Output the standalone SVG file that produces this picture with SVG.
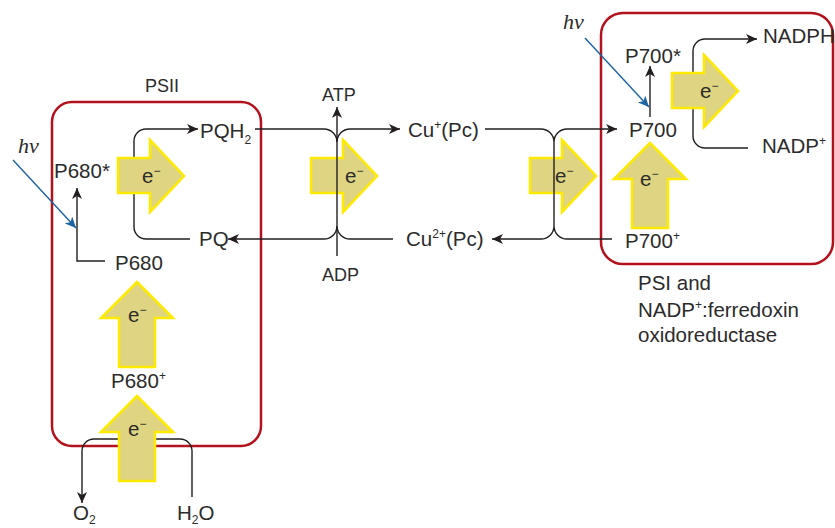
<svg xmlns="http://www.w3.org/2000/svg" width="835" height="528" viewBox="0 0 835 528">
<defs>
<style>
text{font-family:"Liberation Sans",Arial,sans-serif;font-size:20.5px;fill:#2b2b2b}
.hv{font-family:"Liberation Serif","Times New Roman",serif;font-style:italic;font-size:22px}
.sm{font-size:18px}
.box{fill:none;stroke:#b3121d;stroke-width:2.5}
.ln{fill:none;stroke:#231f20;stroke-width:1.4}
.blue{fill:none;stroke:#1b63a3;stroke-width:1.4}
.ea{fill:#dfd482;stroke:#ffea00;stroke-width:2.5;stroke-linejoin:miter}
</style>
<marker id="ah" markerUnits="userSpaceOnUse" markerWidth="12" markerHeight="10" refX="11" refY="5" orient="auto"><path d="M0,0 L11,5 L0,10 L3,5 Z" fill="#231f20"/></marker>
<marker id="ahb" markerUnits="userSpaceOnUse" markerWidth="12" markerHeight="10" refX="11" refY="5" orient="auto"><path d="M0,0 L11,5 L0,10 L3,5 Z" fill="#1b63a3"/></marker>
<path id="right" d="M0,0 H32 V-18 L66,18 L32,54 V35 H0 Z"/>
<path id="up" d="M0,0 L36,36 H18 V85 H-18 V36 H-36 Z"/>
</defs>
<rect width="835" height="528" fill="#fff"/>

<g id="psii-box"><rect class="box" x="52" y="102" width="209" height="344" rx="20"/><text class="sm" x="145" y="92">PSII</text></g>
<g id="psi-box"><rect class="box" x="601" y="13" width="232" height="251" rx="22"/>
<text x="638" y="290">PSI and</text>
<text x="638" y="317">NADP<tspan font-size="12" dy="-8">+</tspan><tspan dy="8">:ferredoxin</tspan></text>
<text x="638" y="342">oxidoreductase</text></g>

<g id="connectors">
<path class="ln" d="M190,239 H146 A12,12 0 0 1 134,227 V141 A12,12 0 0 1 146,129 H198" marker-end="url(#ah)"/>
<path class="ln" d="M255,129 H324 A13,13 0 0 1 337,142 A13,13 0 0 1 350,129 H400" marker-end="url(#ah)"/>
<path class="ln" d="M393,239 H350 A13,13 0 0 1 337,226 A13,13 0 0 1 324,239 H228" marker-end="url(#ah)"/>
<path class="ln" d="M485,129 H541 A13,13 0 0 1 554,142 A13,13 0 0 1 567,129 H617" marker-end="url(#ah)"/>
<path class="ln" d="M612,239 H567 A13,13 0 0 1 554,226 A13,13 0 0 1 541,239 H492" marker-end="url(#ah)"/>
<path class="ln" d="M105,261 H77 V188" marker-end="url(#ah)"/>
<path class="ln" d="M650,117 V66" marker-end="url(#ah)"/>
<path class="ln" d="M748,148 H705 A12,12 0 0 1 693,136 V51 A12,12 0 0 1 705,39 H757" marker-end="url(#ah)"/>
<path class="ln" d="M118,439 H94 A12,12 0 0 0 82,451 V503" marker-end="url(#ah)"/>
<path class="ln" d="M192,497 V451 A12,12 0 0 0 180,439 H154"/>
<path class="blue" d="M13,160 L76,228" marker-end="url(#ahb)"/>
<path class="blue" d="M585,38 L649,107" marker-end="url(#ahb)"/>
</g>

<g id="e-psii"><use href="#right" class="ea" transform="translate(118,158)"/><text x="142" y="183">e<tspan font-size="12" dy="-8">−</tspan></text></g>
<g id="e-cytb6f"><use href="#right" class="ea" transform="translate(311,158)"/><text x="345" y="183">e<tspan font-size="12" dy="-8">−</tspan></text></g>
<g id="e-pc"><use href="#right" class="ea" transform="translate(530,158)"/><text x="555" y="183">e<tspan font-size="12" dy="-8">−</tspan></text></g>
<g id="e-fnr"><use href="#right" class="ea" transform="translate(672,73)"/><text x="700" y="98">e<tspan font-size="12" dy="-8">−</tspan></text></g>
<g id="e-p680"><use href="#up" class="ea" transform="translate(137,282)"/><text x="128" y="322">e<tspan font-size="12" dy="-8">−</tspan></text></g>
<g id="e-water"><use href="#up" class="ea" transform="translate(137,396)"/><text x="128" y="436">e<tspan font-size="12" dy="-8">−</tspan></text></g>
<g id="e-p700"><use href="#up" class="ea" transform="translate(650,143)"/><text x="640" y="186">e<tspan font-size="12" dy="-8">−</tspan></text></g>

<g id="membrane-lines">
<path class="ln" d="M337,256 V107" marker-end="url(#ah)"/>
<path class="ln" d="M554,142 V226"/>
</g>

<g id="PQH2"><text x="200" y="138">PQH<tspan font-size="12" dy="6">2</tspan></text></g>
<g id="PQ"><text x="199" y="246">PQ</text></g>
<g id="P680star"><text x="54" y="178">P680*</text></g>
<g id="P680"><text x="115" y="270">P680</text></g>
<g id="P680plus"><text x="111" y="388">P680<tspan font-size="12" dy="-8">+</tspan></text></g>
<g id="hv1"><text class="hv" x="18" y="153">hν</text></g>
<g id="hv2"><text class="hv" x="563" y="29">hν</text></g>
<g id="ATP"><text class="sm" x="322" y="101">ATP</text></g>
<g id="ADP"><text class="sm" x="322" y="281">ADP</text></g>
<g id="CuPc"><text x="408" y="137">Cu<tspan font-size="12" dy="-8">+</tspan><tspan dy="8">(Pc)</tspan></text></g>
<g id="Cu2Pc"><text x="406" y="246">Cu<tspan font-size="12" dy="-8">2+</tspan><tspan dy="8">(Pc)</tspan></text></g>
<g id="P700star"><text x="625" y="63">P700*</text></g>
<g id="P700"><text x="629" y="137">P700</text></g>
<g id="P700plus"><text x="625" y="248">P700<tspan font-size="12" dy="-8">+</tspan></text></g>
<g id="NADPH"><text x="763" y="43">NADPH</text></g>
<g id="NADPplus"><text x="762" y="153">NADP<tspan font-size="12" dy="-8">+</tspan></text></g>
<g id="O2"><text x="73" y="520">O<tspan font-size="12" dy="4">2</tspan></text></g>
<g id="H2O"><text x="177" y="520">H<tspan font-size="12" dy="4">2</tspan><tspan dy="-4">O</tspan></text></g>
</svg>
